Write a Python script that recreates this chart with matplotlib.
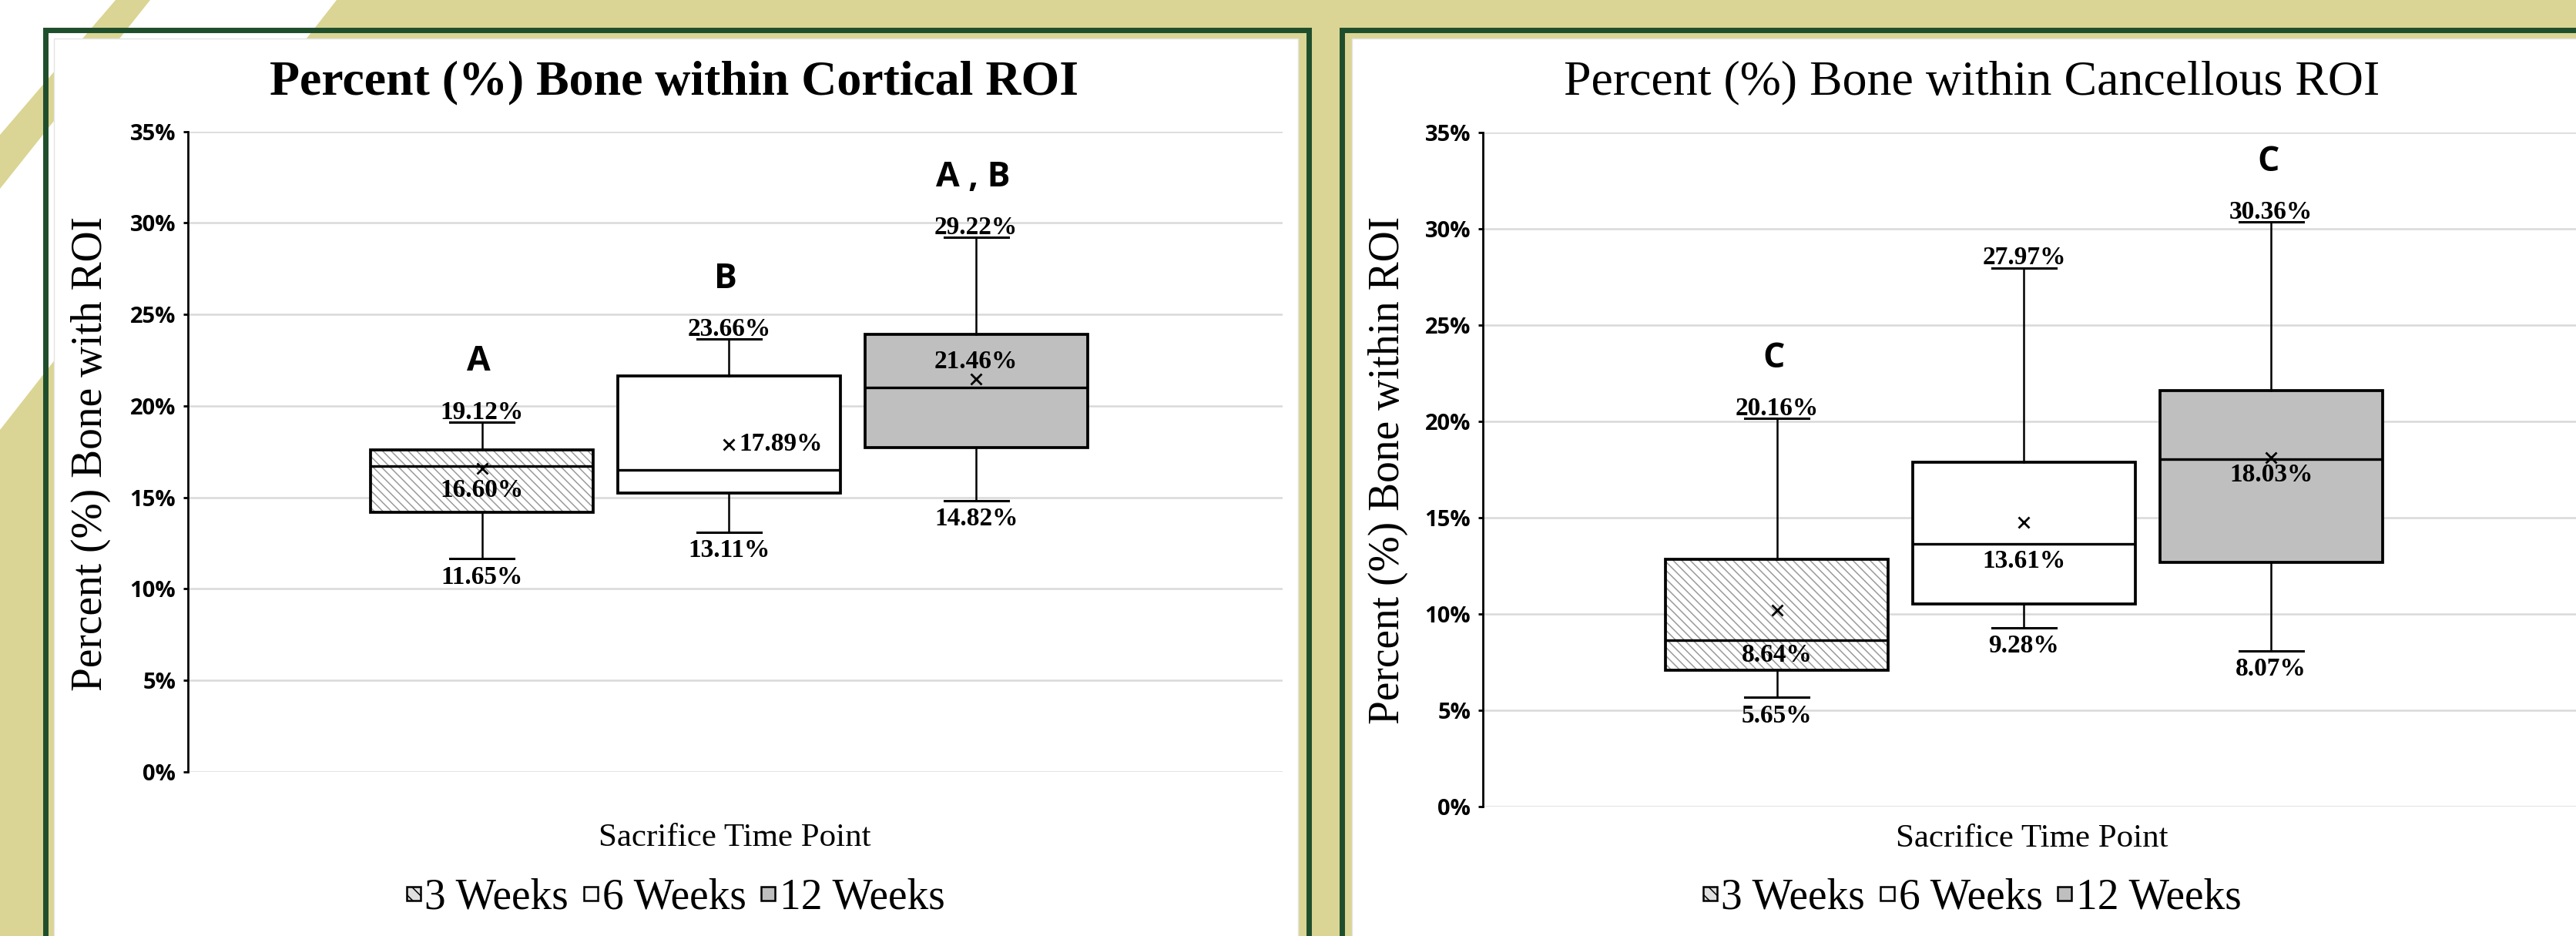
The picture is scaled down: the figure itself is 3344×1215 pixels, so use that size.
import matplotlib
matplotlib.use("Agg")
import matplotlib.pyplot as plt
from matplotlib.patches import Patch, Polygon, Rectangle

W, H = 3344, 1215
SERIF = ["Liberation Serif", "DejaVu Serif"]
SANS = ["Open Sans", "DejaVu Sans"]
KHAKI = "#DAD594"
GREEN = "#1F4E2C"
plt.rcParams["hatch.linewidth"] = 1.1

groups = ["3 Weeks", "6 Weeks", "12 Weeks"]
yticks = [0, 5, 10, 15, 20, 25, 30, 35]

# Cortical ROI (left chart)
cort_min = [11.65, 13.11, 14.82]
cort_q1 = [14.18, 15.24, 17.72]
cort_med = [16.71, 16.50, 20.99]
cort_q3 = [17.61, 21.62, 23.89]
cort_max = [19.12, 23.66, 29.22]
cort_mean = [16.60, 17.89, 21.46]
cort_letters = ["A", "B", "A , B"]

# Cancellous ROI (right chart)
canc_min = [5.65, 9.28, 8.07]
canc_q1 = [7.05, 10.49, 12.67]
canc_med = [8.64, 13.61, 18.03]
canc_q3 = [12.82, 17.86, 21.59]
canc_max = [20.16, 27.97, 30.36]
canc_mean = [10.17, 14.76, 18.10]
canc_letters = ["C", "", "C"]

positions = [-1, 0, 1]
faces = ["white", "white", "#BFBFBF"]
HATCH = "\\\\\\"


def fx(x):
    return x / W


def fy(y):
    return 1 - y / H


def rect(fig, x0, y0, x1, y1, **kw):
    r = Rectangle((fx(x0), fy(y1)), (x1 - x0) / W, (y1 - y0) / H,
                  transform=fig.transFigure, zorder=-5, **kw)
    fig.patches.append(r)


def draw_panel(ax, mins, q1s, meds, q3s, maxs, means, centers, letters, center_offsets):
    stats = []
    for i in range(3):
        stats.append(dict(whislo=mins[i], q1=q1s[i], med=meds[i], q3=q3s[i],
                          whishi=maxs[i], mean=means[i]))
    bp = ax.bxp(stats, positions=positions, widths=0.9, capwidths=0.26,
                showmeans=True, showfliers=False, patch_artist=True, zorder=3,
                boxprops=dict(linewidth=2.7, edgecolor="black"),
                whiskerprops=dict(linewidth=1.8, color="black"),
                capprops=dict(linewidth=2.2, color="black"),
                medianprops=dict(linewidth=2.4, color="black"),
                meanprops=dict(marker="x", markeredgecolor="black",
                               markersize=10, markeredgewidth=2))
    for box, fc in zip(bp["boxes"], faces):
        box.set_facecolor(fc)
    # hatched fill for 3 weeks
    bp["boxes"][0].set_facecolor("none")
    ax.bar(positions[0], q3s[0] - q1s[0], bottom=q1s[0], width=0.9,
           facecolor="white", edgecolor="#9A9A9A", linewidth=0,
           hatch=HATCH, zorder=2.9)

    for i, p in enumerate(positions):
        ax.annotate(f"{maxs[i]:.2f}%", (p, maxs[i]), xytext=(0, 3),
                    textcoords="offset points", ha="center", va="baseline",
                    fontsize=24, fontweight="bold", family=SERIF, zorder=5)
        ax.annotate(f"{mins[i]:.2f}%", (p, mins[i]), xytext=(0, -6),
                    textcoords="offset points", ha="center", va="top",
                    fontsize=24, fontweight="bold", family=SERIF, zorder=5)
        dx, dy, ha = center_offsets[i]
        ax.annotate(f"{centers[i]:.2f}%", (p, centers[i]), xytext=(dx, dy),
                    textcoords="offset points", ha=ha, va="center",
                    fontsize=24, fontweight="bold", family=SERIF, zorder=5)
        if letters[i]:
            ax.annotate(letters[i], (p, maxs[i]), xytext=(-3, 56),
                        textcoords="offset points", ha="center", va="center",
                        fontsize=32, fontweight="bold", family=SANS)

    ax.set_xlim(-2.19, 2.24)
    ax.set_ylim(0, 35)
    ax.set_yticks(yticks)
    ax.set_yticklabels([f"{t}%" for t in yticks], family=SANS,
                       fontweight="bold", fontsize=21)
    ax.set_xticks([])
    ax.tick_params(axis="y", direction="out", length=4.5, width=2, pad=7)
    ax.yaxis.grid(True, color="#D9D9D9", linewidth=1.8)
    ax.set_axisbelow(True)
    for s in ["top", "right", "bottom"]:
        ax.spines[s].set_visible(False)
    ax.spines["left"].set_linewidth(2)
    ax.set_facecolor("none")


fig = plt.figure(figsize=(W / 100, H / 100), dpi=100)
fig.patch.set_facecolor(KHAKI)

# background stripes
for pts in ([(0, 0), (150, 0), (0, 175)],
            [(195, 0), (437, 0), (0, 558), (0, 245)]):
    fig.patches.append(Polygon([(fx(x), fy(y)) for x, y in pts], closed=True,
                               facecolor="white", edgecolor="none",
                               transform=fig.transFigure, zorder=-6))

# panels
rect(fig, 58.5, 38.5, 1698.5, 1240, facecolor="none", edgecolor=GREEN, linewidth=5)
rect(fig, 1741.5, 38.5, 3380, 1240, facecolor="none", edgecolor=GREEN, linewidth=5)
rect(fig, 70, 50, 1685, 1230, facecolor="white", edgecolor="#E4E4E4", linewidth=1)
rect(fig, 1755, 50, 3370, 1230, facecolor="white", edgecolor="#E4E4E4", linewidth=1)

ax1 = fig.add_axes([fx(244), fy(1002), 1421 / W, (1002 - 170.5) / H])
ax2 = fig.add_axes([fx(1925), fy(1046.5), 1421 / W, (1046.5 - 172) / H])

draw_panel(ax1, cort_min, cort_q1, cort_med, cort_q3, cort_max, cort_mean,
           cort_mean, cort_letters,
           [(0, -21, "center"), (9, 0, "left"), (0, 16, "center")])
draw_panel(ax2, canc_min, canc_q1, canc_med, canc_q3, canc_max, canc_mean,
           canc_med, canc_letters,
           [(0, -14, "center"), (0, -16, "center"), (0, -15, "center")])

ax1.set_ylabel("Percent (%) Bone with ROI", fontsize=40, family=SERIF)
ax1.yaxis.label.set_va("center")
ax1.yaxis.set_label_coords(-0.0887, 0.497)
ax2.set_ylabel("Percent (%) Bone within ROI", fontsize=40, family=SERIF)
ax2.yaxis.label.set_va("center")
ax2.yaxis.set_label_coords(-0.0869, 0.499)

fig.text(fx(875), fy(107), "Percent (%) Bone within Cortical ROI", ha="center",
         va="center", fontsize=46, fontweight="bold", family=SERIF)
fig.text(fx(2560), fy(107), "Percent (%) Bone within Cancellous ROI", ha="center",
         va="center", fontsize=46, family=SERIF)
fig.text(fx(954), fy(1088), "Sacrifice Time Point", ha="center", va="center",
         fontsize=31, family=SERIF)
fig.text(fx(2638), fy(1089), "Sacrifice Time Point", ha="center", va="center",
         fontsize=31, family=SERIF)

handles = [Patch(facecolor="#E0E0E0", edgecolor="black", hatch="\\\\", linewidth=1.8),
           Patch(facecolor="white", edgecolor="black", linewidth=1.8),
           Patch(facecolor="#BFBFBF", edgecolor="black", linewidth=1.8)]
for cx in (877, 2560):
    fig.legend(handles, groups, loc="center", bbox_to_anchor=(fx(cx), fy(1166)),
               ncol=3, frameon=False, prop={"family": SERIF, "size": 40},
               handlelength=0.33, handleheight=0.125, handletextpad=0.1,
               columnspacing=0.35, borderaxespad=0)

fig.savefig("out.png", dpi=100, facecolor=fig.get_facecolor())
